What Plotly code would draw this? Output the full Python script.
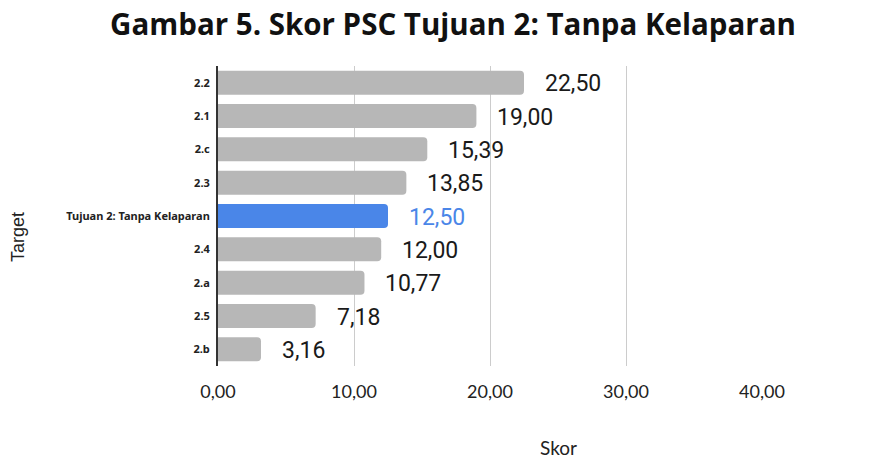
import plotly.graph_objects as go

categories = ["2.2", "2.1", "2.c", "2.3", "Tujuan 2: Tanpa Kelaparan", "2.4", "2.a", "2.5", "2.b"]
values = [22.50, 19.00, 15.39, 13.85, 12.50, 12.00, 10.77, 7.18, 3.16]
labels = ["22,50", "19,00", "15,39", "13,85", "12,50", "12,00", "10,77", "7,18", "3,16"]
tick_vals = [0, 10, 20, 30, 40]
tick_text = ["0,00", "10,00", "20,00", "30,00", "40,00"]

GRAY = "#b7b7b7"
BLUE = "#4a86e8"
colors = [BLUE if c.startswith("Tujuan") else GRAY for c in categories]

# page has an 8px body margin, so the figure is drawn offset by 8px
OFF = 8
W, H = 891 - OFF, 459 - OFF
L, T = 218 - OFF, 66 - OFF
R = W - (762 - OFF)
B = H - (366 - OFF)
PW, PH = W - L - R, H - T - B

fig = go.Figure(go.Bar(
    x=values, y=list(range(len(categories))), orientation="h",
    marker=dict(color=colors, line=dict(width=0)),
    width=0.72,
))

for i, (v, t, col) in enumerate(zip(values, labels, colors)):
    fig.add_annotation(x=v, y=i, xref="x", yref="y", text=t, showarrow=False,
                       xanchor="left", yanchor="middle", xshift=19, yshift=-1,
                       font=dict(family="Roboto", size=23,
                                 color=BLUE if col == BLUE else "#1a1a1a"))

fig.add_annotation(text="Skor", xref="paper", yref="paper",
                   x=(558 - 218) / PW, y=-(447 - 366) / PH,
                   xanchor="center", yanchor="middle", showarrow=False,
                   font=dict(family="Lato", size=19, color="#222"))
fig.add_annotation(text="Target", xref="paper", yref="paper",
                   x=-(218 - 18) / PW, y=(366 - 237) / PH, textangle=-90, showarrow=False,
                   xanchor="center", yanchor="middle",
                   font=dict(family="Liberation Sans", size=18, color="#222"))

fig.update_layout(
    width=W, height=H,
    margin=dict(l=L, r=R, t=T, b=B, autoexpand=False),
    paper_bgcolor="white", plot_bgcolor="white",
    barcornerradius=4,
    showlegend=False,
    title=dict(text="<b>Gambar 5. Skor PSC Tujuan 2: Tanpa Kelaparan</b>",
               x=(453 - OFF) / W, xanchor="center", y=1 - (25 - OFF) / H, yanchor="middle",
               font=dict(family="Open Sans", size=29.5, color="#111")),
    xaxis=dict(range=[0, 40], tickvals=tick_vals, ticktext=tick_text,
               showgrid=True, gridcolor="#cccccc", gridwidth=1,
               zeroline=False, showline=False, automargin=False,
               tickfont=dict(family="Lato", size=18, color="#222"),
               ticklabelstandoff=13),
    yaxis=dict(range=[len(categories) - 0.5, -0.5],
               tickvals=list(range(len(categories))), ticktext=categories,
               showline=True, linecolor="#333", linewidth=2, automargin=False,
               showgrid=False, zeroline=False, ticks="", ticklabelstandoff=4,
               tickfont=dict(family="Noto Sans", size=11, color="#222", weight="bold")),
)

fig.write_html("out.html")
